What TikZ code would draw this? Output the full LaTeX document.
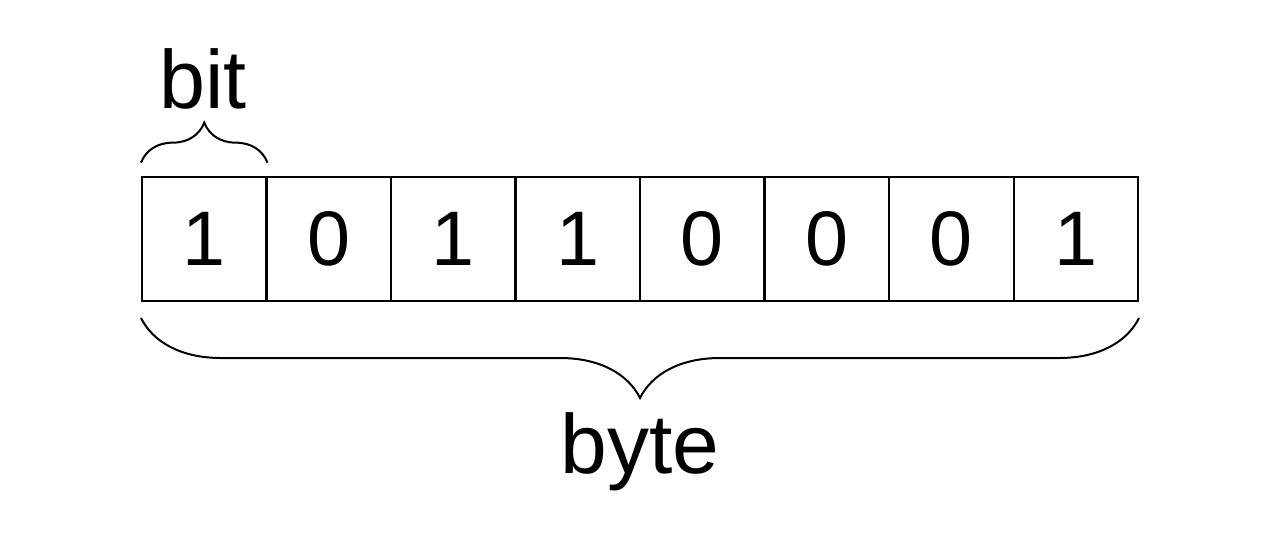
\documentclass[tikz,border=0pt]{standalone}
\usepackage{fontspec}
\setmainfont{Liberation Sans}
\usetikzlibrary{decorations.pathreplacing}

\tikzset{every picture/.style={line width=1.5pt}}
\tikzset{bitcell/.style={draw,minimum width=93.4pt,minimum height=93pt,inner sep=0pt,font=\fontsize{58}{58}\selectfont}}

\begin{document}
\begin{tikzpicture}[x=0.75pt,y=0.75pt,yscale=-1,xscale=1]
\useasboundingbox (0,0) rectangle (1280,540);

%Cells
\foreach \v [count=\i] in {1,0,1,1,0,0,0,1} {
  \node [bitcell] (b\i) at (142+124.5*\i-62.25,239) {\v};
}

%Braces
\draw [decorate,decoration={brace,amplitude=30pt}] ([yshift=-10pt]b1.north west) -- ([yshift=-10pt]b1.north east);
\draw [decorate,decoration={brace,amplitude=60pt,mirror}] ([yshift=12pt]b1.south west) -- ([yshift=12pt]b8.south east);

% Text Node
\node [anchor=base,inner sep=0pt,font=\fontsize{62}{62}\selectfont] (bitlabel) at (203,108) {bit};
% Text Node
\node [anchor=base,inner sep=0pt,font=\fontsize{63}{63}\selectfont] (bytelabel) at (640,473) {byte};

\end{tikzpicture}
\end{document}
